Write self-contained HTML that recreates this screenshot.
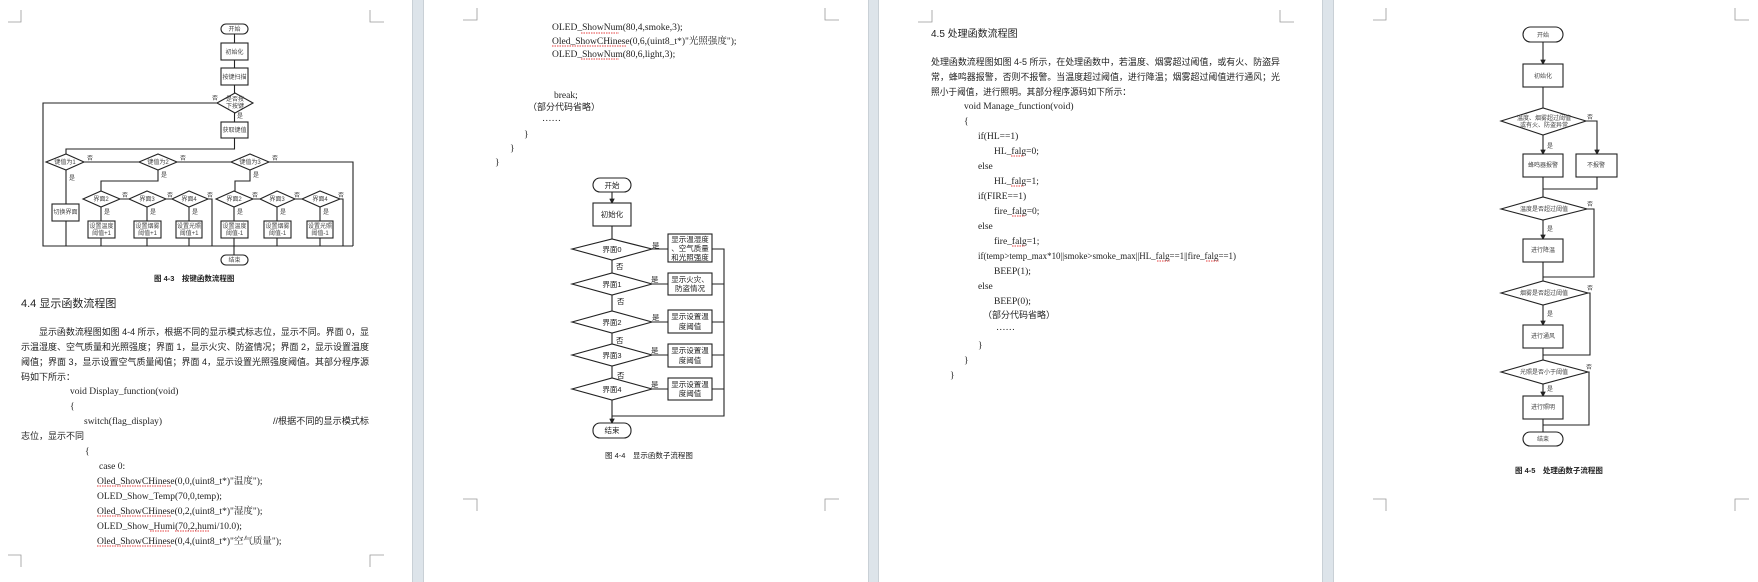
<!DOCTYPE html>
<html><head><meta charset="utf-8">
<style>
html,body{margin:0;padding:0;background:#dde4ea;}
svg{display:block}
text{font-family:"Liberation Serif","Noto Serif CJK SC","Noto Sans CJK SC",serif;fill:#222}
.cn{font-family:"Liberation Sans","Noto Sans CJK SC",sans-serif}
.fc{font-family:"Liberation Sans","Noto Sans CJK SC",sans-serif;font-size:6px;fill:#444}
.fc2{font-family:"Liberation Sans","Noto Sans CJK SC",sans-serif;font-size:7.5px;fill:#222}
.ln{stroke:#222;stroke-width:1.1;fill:none}
.bx{stroke:#222;stroke-width:1.1;fill:#fff}
.cm{stroke:#999;stroke-width:0.8;fill:none}
.code{font-size:9.5px}
.para{font-size:9px;font-family:"Liberation Sans","Noto Sans CJK SC",sans-serif}
.sq{stroke:#d00;stroke-width:0.8;stroke-dasharray:1.5 1;fill:none}
</style></head><body>
<svg width="1758" height="582" viewBox="0 0 1758 582" xmlns="http://www.w3.org/2000/svg">
<defs>
<marker id="a" markerWidth="5" markerHeight="5" refX="4" refY="2.5" orient="auto"><path d="M0,0 L5,2.5 L0,5z" fill="#222"/></marker>
</defs>
<rect x="0" y="0" width="1758" height="582" fill="#dde4ea"/>
<rect x="0" y="0" width="413" height="582" fill="#fff"/>
<rect x="423" y="0" width="445" height="582" fill="#fff"/>
<rect x="878" y="0" width="445" height="582" fill="#fff"/>
<rect x="1333" y="0" width="425" height="582" fill="#fff"/>
<line x1="423.5" y1="0" x2="423.5" y2="582" stroke="#c9d0d6"/>
<line x1="412.5" y1="0" x2="412.5" y2="582" stroke="#c9d0d6"/>
<line x1="868.5" y1="0" x2="868.5" y2="582" stroke="#c9d0d6"/>
<line x1="878.5" y1="0" x2="878.5" y2="582" stroke="#c9d0d6"/>
<line x1="1322.5" y1="0" x2="1322.5" y2="582" stroke="#c9d0d6"/>
<line x1="1333.5" y1="0" x2="1333.5" y2="582" stroke="#c9d0d6"/>

<!-- ============ PAGE 1 ============ -->
<path class="cm" d="M8,22 H21 V10 M370,10 V22 H384"/>
<path class="cm" d="M8,555 H21 V567 M370,567 V555 H384"/>
<g>
<rect class="bx" x="221" y="24" width="27" height="10" rx="5"/><text class="fc" x="234.5" y="31" text-anchor="middle">开始</text>
<path class="ln" d="M234.5,34 V43"/>
<rect class="bx" x="221" y="43" width="27" height="17"/><text class="fc" x="234.5" y="54" text-anchor="middle">初始化</text>
<path class="ln" d="M234.5,60 V68"/>
<rect class="bx" x="221" y="68" width="27" height="17"/><text class="fc" x="234.5" y="79" text-anchor="middle">按键扫描</text>
<path class="ln" d="M234.5,85 V93"/>
<polygon class="bx" points="217,103 235,93 253,103 235,113"/><text class="fc" x="235" y="101" text-anchor="middle">是否按</text><text class="fc" x="235" y="108" text-anchor="middle">下按键</text>
<text class="fc" x="212" y="100">否</text><text class="fc" x="237" y="118">是</text>
<path class="ln" d="M217,103 H43 V246 H353"/>
<path class="ln" d="M234.5,113 V122"/>
<rect class="bx" x="221" y="122" width="27" height="16"/><text class="fc" x="234.5" y="132" text-anchor="middle">获取键值</text>
<path class="ln" d="M234.5,138 V149 H66 V154"/>
<polygon class="bx" points="46,162 66,154 84,162 66,170"/><text class="fc" x="65" y="164" text-anchor="middle">键值为1</text>
<polygon class="bx" points="139,162 158,154 177,162 158,170"/><text class="fc" x="158" y="164" text-anchor="middle">键值为2</text>
<polygon class="bx" points="231,162 250,154 269,162 250,170"/><text class="fc" x="250" y="164" text-anchor="middle">键值为3</text>
<path class="ln" d="M84,162 H139 M177,162 H231 M269,162 H353 V246"/>
<text class="fc" x="87" y="160">否</text><text class="fc" x="180" y="160">否</text><text class="fc" x="272" y="160">否</text>
<text class="fc" x="69" y="180">是</text><text class="fc" x="161" y="177">是</text><text class="fc" x="253" y="177">是</text>
<path class="ln" d="M66,170 V204 M66,221 V246"/>
<rect class="bx" x="52" y="204" width="27" height="17"/><text class="fc" x="65.5" y="214" text-anchor="middle">切换界面</text>
<path class="ln" d="M158,170 V181 H101 V191 M250,170 V181 H235 V191"/>
<polygon class="bx" points="83,199 101,191 120,199 101,207"/><text class="fc" x="101" y="201" text-anchor="middle">界面2</text>
<polygon class="bx" points="129,199 147,191 166,199 147,207"/><text class="fc" x="147" y="201" text-anchor="middle">界面3</text>
<polygon class="bx" points="172,199 189,191 208,199 189,207"/><text class="fc" x="189" y="201" text-anchor="middle">界面4</text>
<path class="ln" d="M120,199 H129 M166,199 H172 M208,199 H212 V246"/>
<text class="fc" x="122" y="197">否</text><text class="fc" x="167" y="197">否</text><text class="fc" x="207" y="197">否</text>
<path class="ln" d="M101,207 V221 M101,238 V246 M147,207 V221 M147,238 V246 M189,207 V221 M189,238 V246"/>
<text class="fc" x="104" y="214">是</text><text class="fc" x="150" y="214">是</text><text class="fc" x="192" y="214">是</text>
<rect class="bx" x="88" y="221" width="27" height="17"/><text class="fc" x="101.5" y="228" text-anchor="middle">设置温度</text><text class="fc" x="101.5" y="235" text-anchor="middle">阈值+1</text>
<rect class="bx" x="134" y="221" width="27" height="17"/><text class="fc" x="147.5" y="228" text-anchor="middle">设置烟雾</text><text class="fc" x="147.5" y="235" text-anchor="middle">阈值+1</text>
<rect class="bx" x="176" y="221" width="26" height="17"/><text class="fc" x="189" y="228" text-anchor="middle">设置光照</text><text class="fc" x="189" y="235" text-anchor="middle">阈值+1</text>
<polygon class="bx" points="216,199 234,191 253,199 234,207"/><text class="fc" x="234" y="201" text-anchor="middle">界面2</text>
<polygon class="bx" points="260,199 277,191 295,199 277,207"/><text class="fc" x="277" y="201" text-anchor="middle">界面3</text>
<polygon class="bx" points="302,199 320,191 340,199 320,207"/><text class="fc" x="320" y="201" text-anchor="middle">界面4</text>
<path class="ln" d="M253,199 H260 M295,199 H302 M340,199 H343 V246"/>
<text class="fc" x="252" y="197">否</text><text class="fc" x="294" y="197">否</text><text class="fc" x="338" y="197">否</text>
<path class="ln" d="M234,207 V221 M234,238 V246 M277,207 V221 M277,238 V246 M320,207 V221 M320,238 V246"/>
<text class="fc" x="237" y="214">是</text><text class="fc" x="280" y="214">是</text><text class="fc" x="323" y="214">是</text>
<rect class="bx" x="221" y="221" width="27" height="17"/><text class="fc" x="234.5" y="228" text-anchor="middle">设置温度</text><text class="fc" x="234.5" y="235" text-anchor="middle">阈值-1</text>
<rect class="bx" x="264" y="221" width="27" height="17"/><text class="fc" x="277.5" y="228" text-anchor="middle">设置烟雾</text><text class="fc" x="277.5" y="235" text-anchor="middle">阈值-1</text>
<rect class="bx" x="307" y="221" width="26" height="17"/><text class="fc" x="320" y="228" text-anchor="middle">设置光照</text><text class="fc" x="320" y="235" text-anchor="middle">阈值-1</text>
<path class="ln" d="M234,246 V255" stroke-width="1.8"/>
<rect class="bx" x="221" y="255" width="27" height="10" rx="5"/><text class="fc" x="234.5" y="262" text-anchor="middle">结束</text>
</g>
<text class="cn" x="154" y="281" font-size="7.5" font-weight="bold">图 4-3　按键函数流程图</text>
<text class="cn" x="21" y="307" font-size="11" fill="#333">4.4 显示函数流程图</text>
<text class="para" x="39" y="335" textLength="330" lengthAdjust="spacingAndGlyphs">显示函数流程图如图 4-4 所示，根据不同的显示模式标志位，显示不同。界面 0，显</text>
<text class="para" x="21" y="350" textLength="348" lengthAdjust="spacingAndGlyphs">示温湿度、空气质量和光照强度；界面 1，显示火灾、防盗情况；界面 2，显示设置温度</text>
<text class="para" x="21" y="365" textLength="348" lengthAdjust="spacingAndGlyphs">阈值；界面 3，显示设置空气质量阈值；界面 4，显示设置光照强度阈值。其部分程序源</text>
<text class="para" x="21" y="380">码如下所示：</text>
<text class="code" x="70" y="394">void Display_function(void)</text>
<text class="code" x="70" y="409">{</text>
<text class="code" x="84" y="424">switch(flag_display)</text>
<text class="para" x="273" y="424" textLength="96" lengthAdjust="spacingAndGlyphs">//根据不同的显示模式标</text>
<text class="para" x="21" y="439">志位，显示不同</text>
<text class="code" x="85" y="454">{</text>
<text class="code" x="99" y="469">case 0:</text>
<text class="code" x="97" y="484">Oled_ShowCHinese(0,0,(uint8_t*)"温度");</text>
<text class="code" x="97" y="499">OLED_Show_Temp(70,0,temp);</text>
<text class="code" x="97" y="514">Oled_ShowCHinese(0,2,(uint8_t*)"湿度");</text>
<text class="code" x="97" y="529">OLED_Show_Humi(70,2,humi/10.0);</text>
<text class="code" x="97" y="544">Oled_ShowCHinese(0,4,(uint8_t*)"空气质量");</text>
<path class="sq" d="M97,486 H172 M97,516 H172 M97,546 H172 M150,531 H170 M175,531 H209"/>

<!-- ============ PAGE 2 ============ -->
<path class="cm" d="M463,20 H477 V8 M825,8 V20 H839 M463,499 H477 V511 M825,511 V499 H839"/>
<text class="code" x="552" y="30">OLED_ShowNum(80,4,smoke,3);</text>
<text class="code" x="552" y="44">Oled_ShowCHinese(0,6,(uint8_t*)"光照强度");</text>
<text class="code" x="552" y="57">OLED_ShowNum(80,6,light,3);</text>
<path class="sq" d="M581,33 H619 M552,46 H627 M581,59 H619"/>
<text class="code" x="554" y="98">break;</text>
<text class="para" x="528" y="110">（部分代码省略）</text>
<text class="code" x="542" y="121">……</text>
<text class="code" x="524" y="137">}</text>
<text class="code" x="510" y="151">}</text>
<text class="code" x="495" y="165">}</text>
<rect class="bx" x="593" y="178" width="38" height="14" rx="7"/><text class="fc2" x="612" y="188" text-anchor="middle">开始</text>
<path class="ln" d="M612,192 V203" marker-end="url(#a)"/>
<rect class="bx" x="593" y="203" width="38" height="23"/><text class="fc2" x="612" y="217" text-anchor="middle">初始化</text>
<path class="ln" d="M612,226 V239"/>
<g>
<polygon class="bx" points="572,249 612,239 652,249 612,260"/><text class="fc2" x="612" y="252" text-anchor="middle">界面0</text>
<polygon class="bx" points="572,284 612,273 652,284 612,295"/><text class="fc2" x="612" y="287" text-anchor="middle">界面1</text>
<polygon class="bx" points="572,322 612,311 652,322 612,333"/><text class="fc2" x="612" y="325" text-anchor="middle">界面2</text>
<polygon class="bx" points="572,355 612,344 652,355 612,366"/><text class="fc2" x="612" y="358" text-anchor="middle">界面3</text>
<polygon class="bx" points="572,389 612,378 652,389 612,400"/><text class="fc2" x="612" y="392" text-anchor="middle">界面4</text>
<path class="ln" d="M612,260 V273 M612,295 V311 M612,333 V344 M612,366 V378 M612,400 V416 H724 V249 H712"/>
<path class="ln" d="M652,249 H668 M652,284 H668 M652,322 H668 M652,355 H668 M652,389 H668"/>
<path class="ln" d="M712,284 H724 M712,322 H724 M712,355 H724 M712,389 H724"/>
<path class="ln" d="M612,416 V423" marker-end="url(#a)"/>
<text class="fc2" x="652" y="248">是</text><text class="fc2" x="651" y="282">是</text><text class="fc2" x="652" y="320">是</text><text class="fc2" x="651" y="353">是</text><text class="fc2" x="651" y="387">是</text>
<text class="fc2" x="616" y="269">否</text><text class="fc2" x="617" y="304">否</text><text class="fc2" x="616" y="343">否</text><text class="fc2" x="617" y="378">否</text>
<rect class="bx" x="668" y="234" width="44" height="28"/><text class="fc2" x="690" y="242" text-anchor="middle">显示温湿度</text><text class="fc2" x="690" y="251" text-anchor="middle">、空气质量</text><text class="fc2" x="690" y="260" text-anchor="middle">和光照强度</text>
<rect class="bx" x="668" y="273" width="44" height="22"/><text class="fc2" x="690" y="282" text-anchor="middle">显示火灾、</text><text class="fc2" x="690" y="291" text-anchor="middle">防盗情况</text>
<rect class="bx" x="668" y="310" width="44" height="23"/><text class="fc2" x="690" y="319" text-anchor="middle">显示设置温</text><text class="fc2" x="690" y="329" text-anchor="middle">度阈值</text>
<rect class="bx" x="668" y="344" width="44" height="23"/><text class="fc2" x="690" y="353" text-anchor="middle">显示设置温</text><text class="fc2" x="690" y="363" text-anchor="middle">度阈值</text>
<rect class="bx" x="668" y="378" width="44" height="22"/><text class="fc2" x="690" y="387" text-anchor="middle">显示设置温</text><text class="fc2" x="690" y="396" text-anchor="middle">度阈值</text>
<rect class="bx" x="593" y="423" width="38" height="15" rx="7"/><text class="fc2" x="612" y="433" text-anchor="middle">结束</text>
</g>
<text class="cn" x="605" y="458" font-size="7.5">图 4-4　显示函数子流程图</text>

<!-- ============ PAGE 3 ============ -->
<path class="cm" d="M918,22 H932 V10 M1280,10 V22 H1294"/>
<text class="cn" x="931" y="37" font-size="10" fill="#333">4.5 处理函数流程图</text>
<text class="para" x="931" y="65" textLength="349" lengthAdjust="spacingAndGlyphs">处理函数流程图如图 4-5 所示，在处理函数中，若温度、烟雾超过阈值，或有火、防盗异</text>
<text class="para" x="931" y="80" textLength="349" lengthAdjust="spacingAndGlyphs">常，蜂鸣器报警，否则不报警。当温度超过阈值，进行降温；烟雾超过阈值进行通风；光</text>
<text class="para" x="931" y="95" textLength="200" lengthAdjust="spacingAndGlyphs">照小于阈值，进行照明。其部分程序源码如下所示：</text>
<text class="code" x="964" y="109">void Manage_function(void)</text>
<text class="code" x="964" y="124">{</text>
<text class="code" x="978" y="139">if(HL==1)</text>
<text class="code" x="994" y="154">HL_falg=0;</text>
<text class="code" x="978" y="169">else</text>
<text class="code" x="994" y="184">HL_falg=1;</text>
<text class="code" x="978" y="199">if(FIRE==1)</text>
<text class="code" x="994" y="214">fire_falg=0;</text>
<text class="code" x="978" y="229">else</text>
<text class="code" x="994" y="244">fire_falg=1;</text>
<text class="code" x="978" y="259" textLength="258" lengthAdjust="spacingAndGlyphs">if(temp&gt;temp_max*10||smoke&gt;smoke_max||HL_falg==1||fire_falg==1)</text>
<text class="code" x="994" y="274">BEEP(1);</text>
<text class="code" x="978" y="289">else</text>
<text class="code" x="994" y="304">BEEP(0);</text>
<text class="para" x="983" y="318">（部分代码省略）</text>
<text class="code" x="996" y="330">……</text>
<text class="code" x="978" y="348">}</text>
<text class="code" x="964" y="363">}</text>
<text class="code" x="950" y="378">}</text>
<path class="sq" d="M1011,156 H1024 M1011,186 H1024 M1012,216 H1025 M1012,246 H1025 M1157,261 H1170 M1206,261 H1219"/>

<!-- ============ PAGE 4 ============ -->
<path class="cm" d="M1373,20 H1386 V8 M1735,8 V20 H1749 M1373,499 H1386 V511 M1735,511 V499 H1749"/>
<g>
<rect class="bx" x="1523" y="27" width="40" height="15" rx="7.5"/><text class="fc" x="1543" y="37" text-anchor="middle">开始</text>
<path class="ln" d="M1543,42 V64" marker-end="url(#a)"/>
<rect class="bx" x="1523" y="64" width="40" height="23"/><text class="fc" x="1543" y="78" text-anchor="middle">初始化</text>
<path class="ln" d="M1543,87 V108"/>
<polygon class="bx" points="1501,121 1543,108 1586,121 1543,135"/><text class="fc" x="1544" y="120" text-anchor="middle">温度、烟雾超过阈值</text><text class="fc" x="1544" y="127" text-anchor="middle">或有火、防盗异常</text>
<text class="fc" x="1587" y="119">否</text>
<path class="ln" d="M1586,121 H1597 V154" marker-end="url(#a)"/>
<text class="fc" x="1547" y="148">是</text>
<path class="ln" d="M1543,135 V154" marker-end="url(#a)"/>
<rect class="bx" x="1523" y="154" width="40" height="23"/><text class="fc" x="1543" y="167" text-anchor="middle">蜂鸣器报警</text>
<rect class="bx" x="1576" y="154" width="41" height="23"/><text class="fc" x="1596" y="167" text-anchor="middle">不报警</text>
<path class="ln" d="M1597,177 V189 H1543 M1543,177 V197"/>
<polygon class="bx" points="1501,209 1543,197 1587,209 1543,220"/><text class="fc" x="1544" y="211" text-anchor="middle">温度是否超过阈值</text>
<text class="fc" x="1587" y="206">否</text>
<path class="ln" d="M1587,209 H1594 V277 H1543"/>
<text class="fc" x="1547" y="231">是</text>
<path class="ln" d="M1543,220 V239" marker-end="url(#a)"/>
<rect class="bx" x="1523" y="239" width="40" height="23"/><text class="fc" x="1543" y="252" text-anchor="middle">进行降温</text>
<path class="ln" d="M1543,262 V281"/>
<polygon class="bx" points="1501,293 1543,281 1588,293 1543,305"/><text class="fc" x="1544" y="295" text-anchor="middle">烟雾是否超过阈值</text>
<text class="fc" x="1587" y="290">否</text>
<path class="ln" d="M1588,293 H1590 V355 H1543"/>
<text class="fc" x="1547" y="316">是</text>
<path class="ln" d="M1543,305 V325" marker-end="url(#a)"/>
<rect class="bx" x="1523" y="325" width="40" height="23"/><text class="fc" x="1543" y="338" text-anchor="middle">进行通风</text>
<path class="ln" d="M1543,348 V360"/>
<polygon class="bx" points="1501,372 1543,360 1588,372 1543,384"/><text class="fc" x="1544" y="374" text-anchor="middle">光照是否小于阈值</text>
<text class="fc" x="1586" y="369">否</text>
<path class="ln" d="M1588,372 H1589 V425 H1543"/>
<text class="fc" x="1547" y="391">是</text>
<path class="ln" d="M1543,384 V396" marker-end="url(#a)"/>
<rect class="bx" x="1523" y="396" width="40" height="23"/><text class="fc" x="1543" y="409" text-anchor="middle">进行照明</text>
<path class="ln" d="M1543,419 V432"/>
<rect class="bx" x="1523" y="432" width="40" height="14" rx="7"/><text class="fc" x="1543" y="441" text-anchor="middle">结束</text>
</g>
<text class="cn" x="1515" y="473" font-size="7.5" font-weight="bold">图 4-5　处理函数子流程图</text>
</svg>
</body></html>
